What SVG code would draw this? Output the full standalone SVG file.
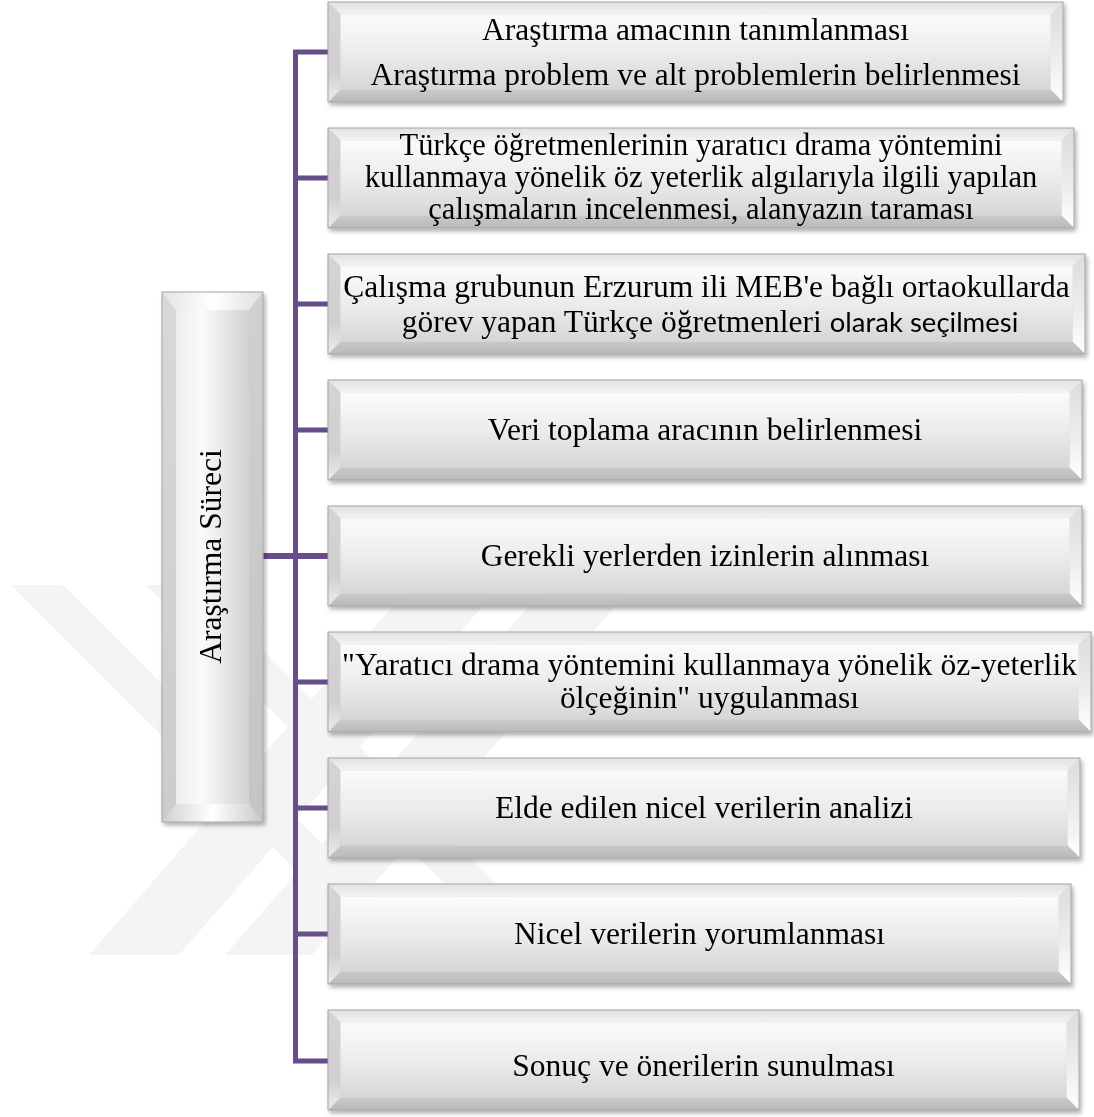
<svg xmlns="http://www.w3.org/2000/svg" width="1094" height="1117" viewBox="0 0 1094 1117">
<defs>
<linearGradient id="gFace" x1="0" y1="0" x2="0" y2="1"><stop offset="0" stop-color="#fbfbfb"/><stop offset="0.5" stop-color="#ececec"/><stop offset="1" stop-color="#d6d6d6"/></linearGradient>
<linearGradient id="gTop" x1="0" y1="0" x2="0" y2="1"><stop offset="0" stop-color="#e2e2e2"/><stop offset="1" stop-color="#f2f2f2"/></linearGradient>
<linearGradient id="gLeft" x1="0" y1="0" x2="0" y2="1"><stop offset="0" stop-color="#d4d4d4"/><stop offset="0.7" stop-color="#d0d0d0"/><stop offset="1" stop-color="#ececec"/></linearGradient>
<linearGradient id="gRight" x1="0" y1="0" x2="0" y2="1"><stop offset="0" stop-color="#dcdcdc"/><stop offset="0.6" stop-color="#eeeeee"/><stop offset="1" stop-color="#ffffff"/></linearGradient>
<linearGradient id="gBottom" x1="0" y1="0" x2="0" y2="1"><stop offset="0" stop-color="#c9c9c9"/><stop offset="1" stop-color="#bababa"/></linearGradient>
<linearGradient id="vFace" x1="0" y1="0" x2="1" y2="0"><stop offset="0" stop-color="#eeeeee"/><stop offset="0.35" stop-color="#fafafa"/><stop offset="1" stop-color="#d2d2d2"/></linearGradient>
<linearGradient id="vTop" x1="0" y1="0" x2="1" y2="0"><stop offset="0" stop-color="#e4e4e4"/><stop offset="0.5" stop-color="#ffffff"/><stop offset="1" stop-color="#e0e0e0"/></linearGradient>
<linearGradient id="vBottom" x1="0" y1="0" x2="1" y2="0"><stop offset="0" stop-color="#d0d0d0"/><stop offset="0.5" stop-color="#ffffff"/><stop offset="1" stop-color="#c8c8c8"/></linearGradient>
<linearGradient id="vLeft" x1="0" y1="0" x2="0" y2="1"><stop offset="0" stop-color="#d8d8d8"/><stop offset="1" stop-color="#cccccc"/></linearGradient>
<linearGradient id="vRight" x1="0" y1="0" x2="0" y2="1"><stop offset="0" stop-color="#d0d0d0"/><stop offset="1" stop-color="#c4c4c4"/></linearGradient>
<filter id="sh" x="-5%" y="-5%" width="110%" height="115%"><feDropShadow dx="2" dy="3" stdDeviation="2" flood-color="#000" flood-opacity="0.3"/></filter>
</defs>
<style>
.t{font-family:"Liberation Serif","Times New Roman",serif;font-size:31.5px;fill:#000;text-anchor:middle}
.t2{font-size:30.5px}
.s{font-family:Lato,"Liberation Sans",sans-serif;font-size:27.5px}
.o{fill:none;stroke:#a3a3a3;stroke-width:1}
.wm{fill:#f4f4f4}
.c{fill:none;stroke:#674d8a;stroke-width:5;stroke-linejoin:miter}
</style>
<rect width="1094" height="1117" fill="#fff"/>
<g id="watermark">
<polygon class="wm" points="11,585 63,585 433,955 381,955"/>
<polygon class="wm" points="146,585 198,585 568,955 516,955"/>
<polygon class="wm" points="411,585 501,585 179,955 89,955"/>
<polygon class="wm" points="547,585 634,585 312,955 225,955"/>
</g>
<g id="connectors">
<path class="c" d="M328,52 H295.5 V1061 H328"/>
<path class="c" d="M295.5,178 H328 M295.5,304 H328 M295.5,430 H328 M295.5,682 H328 M295.5,808 H328 M295.5,934 H328"/>
<path class="c" d="M263,556 H328" style="stroke-width:6"/>
</g>
<g id="root" filter="url(#sh)">
<polygon fill="url(#vTop)" points="162,292 263,292 249,310 176,310"/>
<polygon fill="url(#vRight)" points="263,292 263,822 249,804 249,310"/>
<polygon fill="url(#vBottom)" points="162,822 263,822 249,804 176,804"/>
<polygon fill="url(#vLeft)" points="162,292 176,310 176,804 162,822"/>
<rect x="176" y="310" width="73" height="494" fill="url(#vFace)"/>
<rect class="o" x="162" y="292" width="101" height="530"/>
<text class="t" transform="translate(221,556.5) rotate(-90)">Araştırma Süreci</text>
</g>
<g id="n1" filter="url(#sh)">
<polygon fill="url(#gTop)" points="328,2 1063,2 1050.5,14.5 340.5,14.5"/>
<polygon fill="url(#gRight)" points="1063,2 1063,102 1050.5,89.5 1050.5,14.5"/>
<polygon fill="url(#gBottom)" points="328,102 1063,102 1050.5,89.5 340.5,89.5"/>
<polygon fill="url(#gLeft)" points="328,2 340.5,14.5 340.5,89.5 328,102"/>
<rect x="340.5" y="14.5" width="710" height="75" fill="url(#gFace)"/>
<rect class="o" x="328" y="2" width="735" height="100"/>
<text class="t" x="695.5" y="40">Araştırma amacının tanımlanması</text>
<text class="t" x="695.5" y="85">Araştırma problem ve alt problemlerin belirlenmesi</text>
</g>
<g id="n2" filter="url(#sh)">
<polygon fill="url(#gTop)" points="328,128 1074,128 1061.5,140.5 340.5,140.5"/>
<polygon fill="url(#gRight)" points="1074,128 1074,228 1061.5,215.5 1061.5,140.5"/>
<polygon fill="url(#gBottom)" points="328,228 1074,228 1061.5,215.5 340.5,215.5"/>
<polygon fill="url(#gLeft)" points="328,128 340.5,140.5 340.5,215.5 328,228"/>
<rect x="340.5" y="140.5" width="721" height="75" fill="url(#gFace)"/>
<rect class="o" x="328" y="128" width="746" height="100"/>
<text class="t t2" x="701" y="155">Türkçe öğretmenlerinin yaratıcı drama yöntemini</text>
<text class="t t2" x="701" y="187">kullanmaya yönelik öz yeterlik algılarıyla ilgili yapılan</text>
<text class="t t2" x="701" y="219">çalışmaların incelenmesi, alanyazın taraması</text>
</g>
<g id="n3" filter="url(#sh)">
<polygon fill="url(#gTop)" points="328,254 1085,254 1072.5,266.5 340.5,266.5"/>
<polygon fill="url(#gRight)" points="1085,254 1085,354 1072.5,341.5 1072.5,266.5"/>
<polygon fill="url(#gBottom)" points="328,354 1085,354 1072.5,341.5 340.5,341.5"/>
<polygon fill="url(#gLeft)" points="328,254 340.5,266.5 340.5,341.5 328,354"/>
<rect x="340.5" y="266.5" width="732" height="75" fill="url(#gFace)"/>
<rect class="o" x="328" y="254" width="757" height="100"/>
<text class="t" x="706.5" y="297">Çalışma grubunun Erzurum ili MEB'e bağlı ortaokullarda</text>
<text class="t" x="710" y="332">görev yapan Türkçe öğretmenleri <tspan class="s">olarak seçilmesi</tspan></text>
</g>
<g id="n4" filter="url(#sh)">
<polygon fill="url(#gTop)" points="328,380 1082,380 1069.5,392.5 340.5,392.5"/>
<polygon fill="url(#gRight)" points="1082,380 1082,480 1069.5,467.5 1069.5,392.5"/>
<polygon fill="url(#gBottom)" points="328,480 1082,480 1069.5,467.5 340.5,467.5"/>
<polygon fill="url(#gLeft)" points="328,380 340.5,392.5 340.5,467.5 328,480"/>
<rect x="340.5" y="392.5" width="729" height="75" fill="url(#gFace)"/>
<rect class="o" x="328" y="380" width="754" height="100"/>
<text class="t" x="705" y="440">Veri toplama aracının belirlenmesi</text>
</g>
<g id="n5" filter="url(#sh)">
<polygon fill="url(#gTop)" points="328,506 1082,506 1069.5,518.5 340.5,518.5"/>
<polygon fill="url(#gRight)" points="1082,506 1082,606 1069.5,593.5 1069.5,518.5"/>
<polygon fill="url(#gBottom)" points="328,606 1082,606 1069.5,593.5 340.5,593.5"/>
<polygon fill="url(#gLeft)" points="328,506 340.5,518.5 340.5,593.5 328,606"/>
<rect x="340.5" y="518.5" width="729" height="75" fill="url(#gFace)"/>
<rect class="o" x="328" y="506" width="754" height="100"/>
<text class="t" x="705" y="566">Gerekli yerlerden izinlerin alınması</text>
</g>
<g id="n6" filter="url(#sh)">
<polygon fill="url(#gTop)" points="328,632 1091,632 1078.5,644.5 340.5,644.5"/>
<polygon fill="url(#gRight)" points="1091,632 1091,732 1078.5,719.5 1078.5,644.5"/>
<polygon fill="url(#gBottom)" points="328,732 1091,732 1078.5,719.5 340.5,719.5"/>
<polygon fill="url(#gLeft)" points="328,632 340.5,644.5 340.5,719.5 328,732"/>
<rect x="340.5" y="644.5" width="738" height="75" fill="url(#gFace)"/>
<rect class="o" x="328" y="632" width="763" height="100"/>
<text class="t" x="709.5" y="675">"Yaratıcı drama yöntemini kullanmaya yönelik öz-yeterlik</text>
<text class="t" x="709.5" y="708">ölçeğinin" uygulanması</text>
</g>
<g id="n7" filter="url(#sh)">
<polygon fill="url(#gTop)" points="328,758 1080,758 1067.5,770.5 340.5,770.5"/>
<polygon fill="url(#gRight)" points="1080,758 1080,858 1067.5,845.5 1067.5,770.5"/>
<polygon fill="url(#gBottom)" points="328,858 1080,858 1067.5,845.5 340.5,845.5"/>
<polygon fill="url(#gLeft)" points="328,758 340.5,770.5 340.5,845.5 328,858"/>
<rect x="340.5" y="770.5" width="727" height="75" fill="url(#gFace)"/>
<rect class="o" x="328" y="758" width="752" height="100"/>
<text class="t" x="704" y="818">Elde edilen nicel verilerin analizi</text>
</g>
<g id="n8" filter="url(#sh)">
<polygon fill="url(#gTop)" points="328,884 1071,884 1058.5,896.5 340.5,896.5"/>
<polygon fill="url(#gRight)" points="1071,884 1071,984 1058.5,971.5 1058.5,896.5"/>
<polygon fill="url(#gBottom)" points="328,984 1071,984 1058.5,971.5 340.5,971.5"/>
<polygon fill="url(#gLeft)" points="328,884 340.5,896.5 340.5,971.5 328,984"/>
<rect x="340.5" y="896.5" width="718" height="75" fill="url(#gFace)"/>
<rect class="o" x="328" y="884" width="743" height="100"/>
<text class="t" x="699.5" y="944">Nicel verilerin yorumlanması</text>
</g>
<g id="n9" filter="url(#sh)">
<polygon fill="url(#gTop)" points="328,1010 1079,1010 1066.5,1022.5 340.5,1022.5"/>
<polygon fill="url(#gRight)" points="1079,1010 1079,1110 1066.5,1097.5 1066.5,1022.5"/>
<polygon fill="url(#gBottom)" points="328,1110 1079,1110 1066.5,1097.5 340.5,1097.5"/>
<polygon fill="url(#gLeft)" points="328,1010 340.5,1022.5 340.5,1097.5 328,1110"/>
<rect x="340.5" y="1022.5" width="726" height="75" fill="url(#gFace)"/>
<rect class="o" x="328" y="1010" width="751" height="100"/>
<text class="t" x="703.5" y="1076">Sonuç ve önerilerin sunulması</text>
</g>
</svg>
